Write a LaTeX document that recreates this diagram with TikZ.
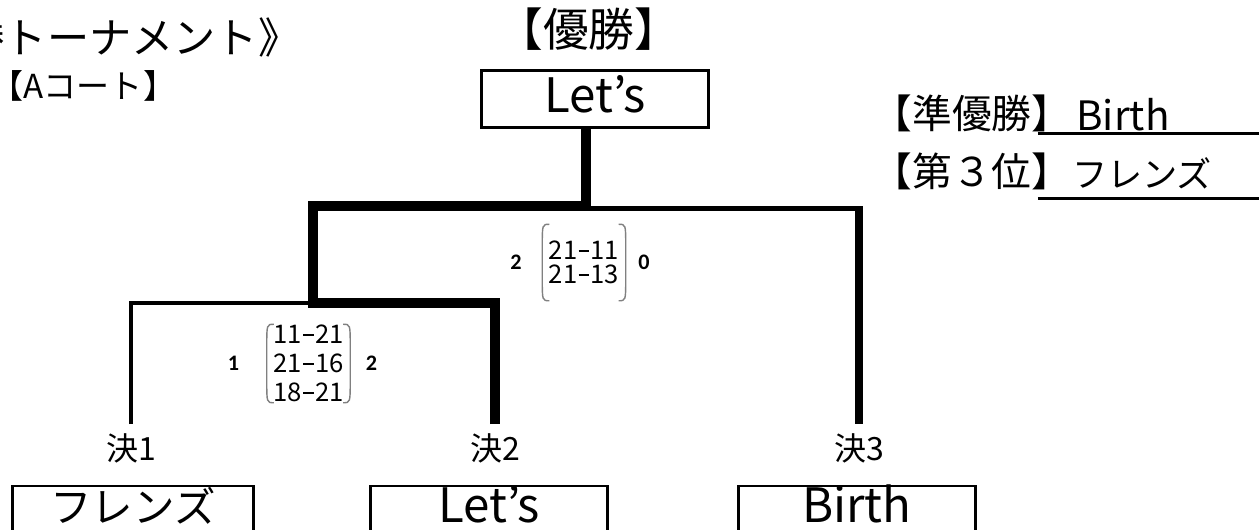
\documentclass[tikz,border=0pt]{standalone}
\usepackage{fontspec}
\setmainfont{Noto Sans CJK JP}
\newfontfamily\numfont{Carlito}
\usetikzlibrary{positioning}

\newcommand\scoredash{\kern0.05em\rule[0.3em]{0.42em}{0.07em}\kern0.05em}

\begin{document}
\begin{tikzpicture}[x=0.01cm,y=-0.01cm]

\tikzstyle{txt}=[inner sep=0pt, text height=0.83em, text depth=0.07em]

\tikzstyle{teambox}=[
  txt,
  draw,
  line width=0.85pt,
  minimum height=0.46cm,
  font=\fontsize{13.5}{15}\selectfont]

\tikzstyle{matchlabel}=[txt, outer sep=2pt, font=\fontsize{9.1}{10}\selectfont]

\tikzstyle{winline}=[line width=2.85pt]
\tikzstyle{loseline}=[line width=1.4pt]

\tikzstyle{score}=[inner sep=0pt, minimum width=0.82cm, align=center, font=\fontsize{7.3}{7}\selectfont]
\tikzstyle{sets}=[inner sep=0pt, font=\numfont\bfseries\fontsize{6.3}{7}\selectfont]
\tikzstyle{paren}=[black!50, line width=0.4pt]

\tikzstyle{rank}=[inner sep=0pt, anchor=base, font=\fontsize{11.3}{12}\selectfont]

\useasboundingbox (0,0) rectangle (1259,529);

% define points
\path
  (313,303) coordinate(S)
  (586,206) coordinate(F)
  (586,208.5) coordinate(Fr)
  ;

% titles
\node[txt, anchor=east, font=\fontsize{12}{14}\selectfont] (title) at (301,40) {《決勝トーナメント》};
\node[txt, anchor=west, font=\fontsize{9.4}{11}\selectfont] (court) at (-10,85) {【Aコート】};
\node[txt, font=\fontsize{13}{15}\selectfont] (yusho) at (589,33) {【優勝】};

% team boxes
\node[teambox, minimum width=2.26cm, minimum height=0.57cm] (champ) at (595,99) {Let's};
\node[teambox, minimum width=2.41cm, font=\fontsize{11.8}{13}\selectfont] (t1) at (133,509) {フレンズ};
\node[teambox, minimum width=2.37cm] (t2) at (489,509) {Let's};
\node[teambox, minimum width=2.37cm] (t3) at (857,509) {Birth};

\node[matchlabel] (m1) at (131,447) {決1};
\node[matchlabel] (m2) at (495,447) {決2};
\node[matchlabel] (m3) at (859,447) {決3};

% ranking
\node[rank] (r2lbl) at (972,128) {【準優勝】};
\node[rank, font=\fontsize{11.5}{13}\selectfont] (r2) at (1123,130) {Birth};
\node[rank] (r3lbl) at (972,186) {【第３位】};
\node[rank, font=\fontsize{10}{12}\selectfont] (r3) at (1142,187) {フレンズ};

\draw[line width=0.85pt] (1038,133) -- (1262,133);
\draw[line width=0.85pt] (1038,198) -- (1262,198);

% scores
\node[score, minimum height=0.75cm] (scF) at (584,262.5) {21\scoredash11\\21\scoredash13};
\node[score, minimum height=0.77cm, font=\fontsize{7.3}{8.2}\selectfont] (scS) at (308.5,363.5) {11\scoredash21\\21\scoredash16\\18\scoredash21};

\node[sets, left=0.2cm of scF] (sfL) {2};
\node[sets, right=0.12cm of scF] (sfR) {0};
\node[sets, left=0.27cm of scS] (ssL) {1};
\node[sets, right=0.15cm of scS] (ssR) {2};

\draw[paren] ([xshift=0.07cm]scF.north west) .. controls (scF.north west) .. ([yshift=-0.22cm]scF.north west)
  -- ([yshift=0.22cm]scF.south west) .. controls (scF.south west) .. ([xshift=0.07cm]scF.south west);
\draw[paren] ([xshift=-0.07cm]scF.north east) .. controls (scF.north east) .. ([yshift=-0.22cm]scF.north east)
  -- ([yshift=0.22cm]scF.south east) .. controls (scF.south east) .. ([xshift=-0.07cm]scF.south east);
\draw[paren] ([xshift=0.07cm]scS.north west) .. controls (scS.north west) .. ([yshift=-0.22cm]scS.north west)
  -- ([yshift=0.22cm]scS.south west) .. controls (scS.south west) .. ([xshift=0.07cm]scS.south west);
\draw[paren] ([xshift=-0.07cm]scS.north east) .. controls (scS.north east) .. ([yshift=-0.22cm]scS.north east)
  -- ([yshift=0.22cm]scS.south east) .. controls (scS.south east) .. ([xshift=-0.07cm]scS.south east);

% draw lines
\draw[loseline] (m1.north) |- (S);
\draw[winline] (m2.north) |- (S) |- (F) -- (F |- champ.south);
\draw[loseline] (Fr) -- (Fr -| m3.north);
\draw[line width=2.3pt] (F -| m3.north) -- (m3.north);

\end{tikzpicture}
\end{document}
